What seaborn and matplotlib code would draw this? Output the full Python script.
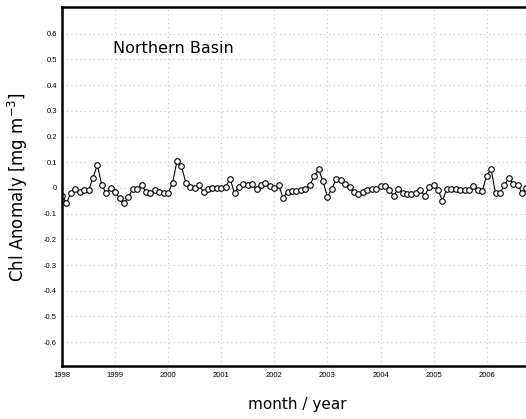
import numpy as np
import pandas as pd
import matplotlib
matplotlib.use("Agg")
import matplotlib.pyplot as plt
import seaborn as sns

# Monthly Chl anomaly, Northern Basin, Jan 1998 .. Nov 2006
anom_1998 = [-0.03, -0.06, -0.02, -0.005, -0.015, -0.01, -0.01, 0.04, 0.09, 0.01, -0.02, 0.0]
anom_1999 = [-0.015, -0.04, -0.06, -0.035, -0.005, -0.005, 0.01, -0.015, -0.02, -0.01, -0.015, -0.02]
anom_2000 = [-0.02, 0.02, 0.105, 0.085, 0.02, 0.005, 0.0, 0.01, -0.015, -0.005, 0.0, 0.0]
anom_2001 = [0.0, 0.005, 0.035, -0.02, 0.005, 0.015, 0.01, 0.015, -0.005, 0.01, 0.02, 0.008]
anom_2002 = [0.0, 0.01, -0.04, -0.015, -0.013, -0.012, -0.007, -0.003, 0.01, 0.045, 0.072, 0.026]
anom_2003 = [-0.035, -0.003, 0.035, 0.03, 0.016, 0.003, -0.017, -0.023, -0.016, -0.01, -0.003, -0.003]
anom_2004 = [0.006, 0.006, -0.01, -0.03, -0.003, -0.02, -0.023, -0.023, -0.02, -0.01, -0.03, 0.003]
anom_2005 = [0.012, -0.007, -0.05, -0.003, -0.003, -0.003, -0.01, -0.007, -0.007, 0.006, -0.007, -0.012]
anom_2006 = [0.048, 0.072, -0.02, -0.02, 0.01, 0.04, 0.016, 0.013, -0.02, 0.0, 0.01]

start_year = 1998
year_ticks = [1998, 1999, 2000, 2001, 2002, 2003, 2004, 2005, 2006]
year_labels = ["1998", "1999", "2000", "2001", "2002", "2003", "2004", "2005", "2006"]
y_ticks = [0.6, 0.5, 0.4, 0.3, 0.2, 0.1, 0.0, -0.1, -0.2, -0.3, -0.4, -0.5, -0.6]
y_labels = ["0.6", "0.5", "0.4", "0.3", "0.2", "0.1", "0", "-0.1", "-0.2", "-0.3", "-0.4", "-0.5", "-0.6"]

title_text = "Northern Basin"
xlabel_text = "month / year"
ylabel_text = "Chl Anomaly [mg m$^{-3}$]"

values = (anom_1998 + anom_1999 + anom_2000 + anom_2001 + anom_2002 +
          anom_2003 + anom_2004 + anom_2005 + anom_2006)
df = pd.DataFrame({
    "time": start_year + np.arange(len(values)) / 12.0,
    "anomaly": values,
})

sns.set_theme(style="white")
plt.rcParams["font.family"] = ["DejaVu Sans"]
plt.rcParams["text.color"] = "black"
plt.rcParams["xtick.color"] = "black"
plt.rcParams["ytick.color"] = "black"

fig = plt.figure(figsize=(5.26, 4.19), dpi=100)
ax = fig.add_axes([62 / 526, 1 - 366 / 419, 1 - 62 / 526 + 0.01, (366 - 7) / 419])

sns.lineplot(data=df, x="time", y="anomaly", ax=ax, color="black", linewidth=0.8,
             marker="o", markersize=4.0, markerfacecolor="white",
             markeredgecolor="black", markeredgewidth=0.8, clip_on=True)

ax.set_xlim(1998, 2006.84)
ax.set_ylim(-0.693, 0.704)
ax.set_xticks(year_ticks)
ax.set_xticklabels(year_labels, fontsize=5.5, family="Liberation Sans")
ax.set_yticks(y_ticks)
ax.set_yticklabels(y_labels, fontsize=5.5, family="Liberation Sans")

ax.grid(True, color="#c4c4c4", linestyle=(0, (1, 3)), linewidth=0.8)
ax.tick_params(axis="y", which="major", direction="out", length=2.5, width=0.8,
               color="black", labelcolor="black", pad=1)
ax.tick_params(axis="x", which="major", length=0, pad=4, labelcolor="black")

for side in ["left", "top", "bottom"]:
    ax.spines[side].set_visible(True)
    ax.spines[side].set_color("black")
    ax.spines[side].set_linewidth(1.8)
ax.spines["right"].set_visible(False)

ax.set_xlabel("")
ax.set_ylabel("")
fig.text(297 / 526, 1 - 404 / 419, xlabel_text, ha="center", va="center",
         fontsize=11, color="black")
fig.text(18 / 526, 1 - 187 / 419, ylabel_text, ha="center", va="center",
         rotation=90, fontsize=12, color="black")
ax.text((112 - 62) / 464, 0.885, title_text, transform=ax.transAxes, ha="left",
        va="center", fontsize=11.5, color="black")

fig.savefig("out.png", dpi=100)
